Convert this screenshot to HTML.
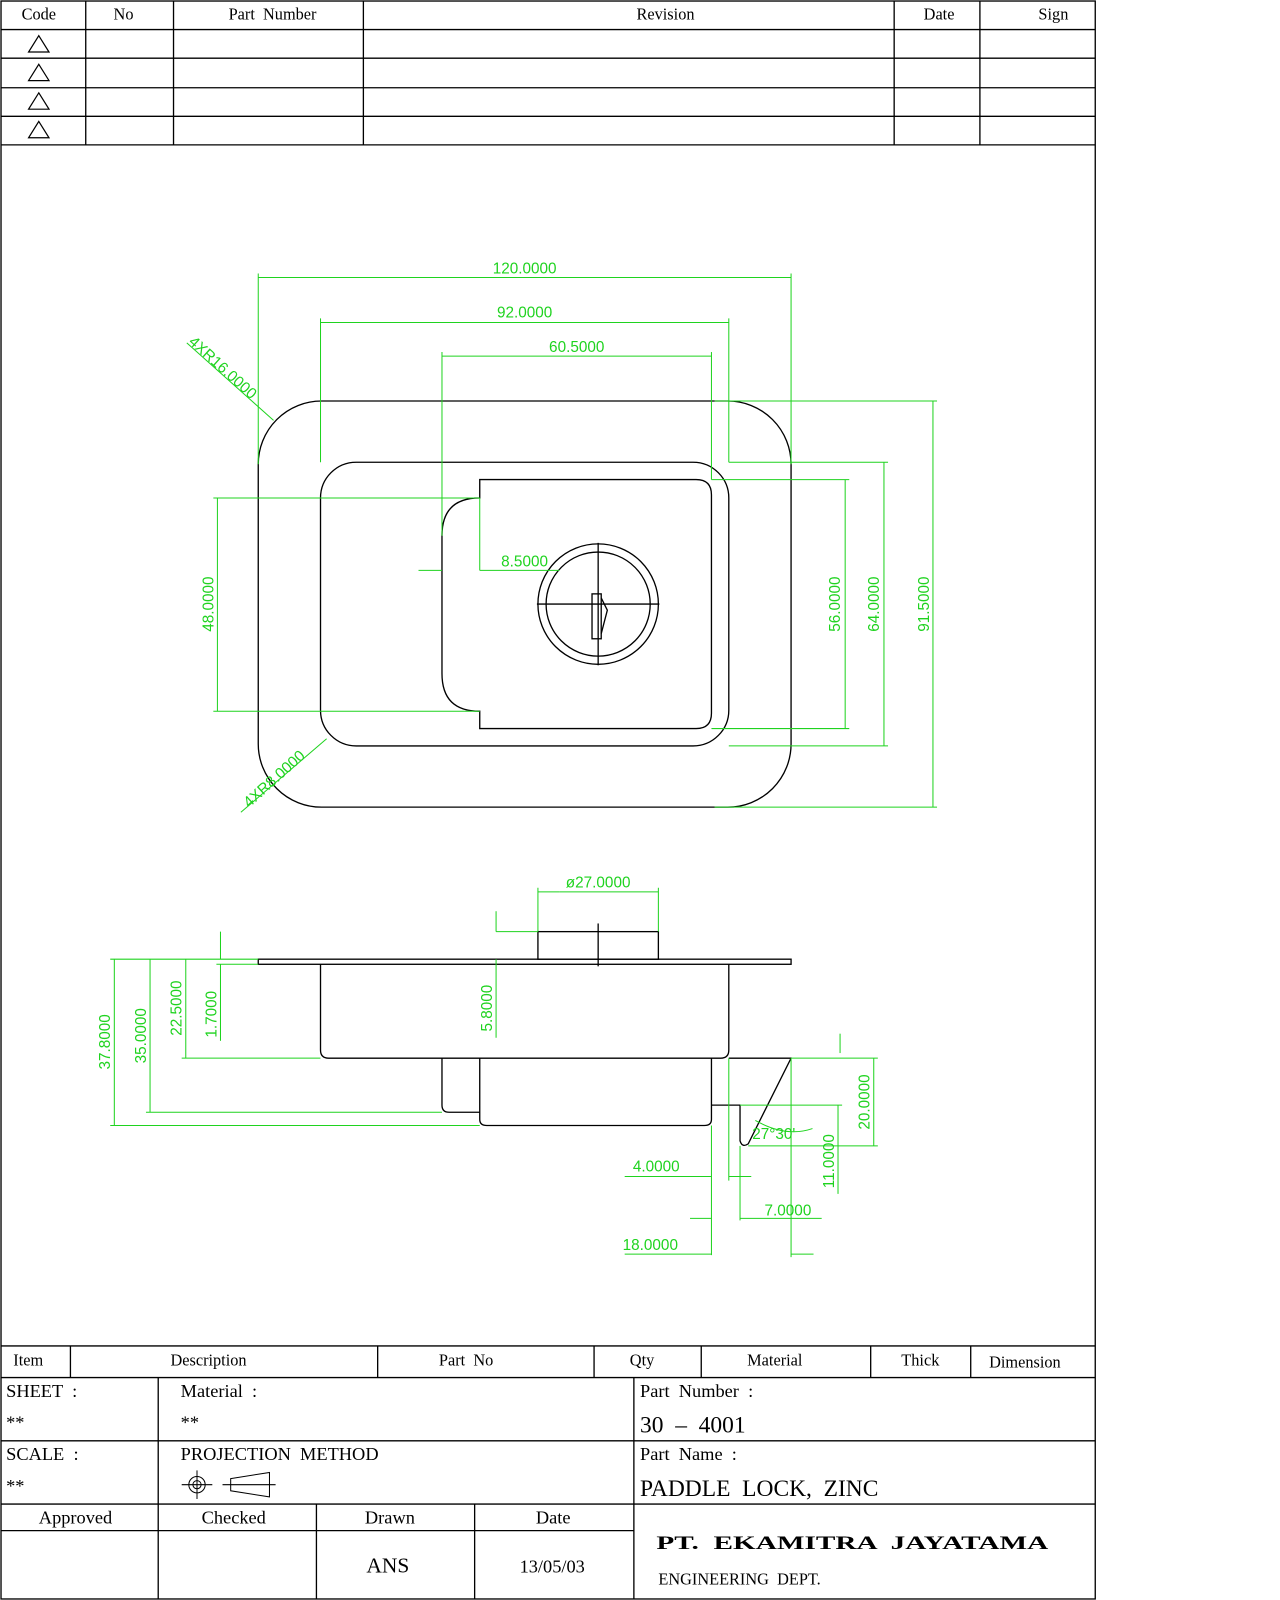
<!DOCTYPE html>
<html><head><meta charset="utf-8"><style>
html,body{margin:0;padding:0;background:#fff}
svg{display:block}
text{white-space:pre}
.k{stroke:#000;stroke-width:1.3;fill:none}
.g{stroke:#1fd31f;stroke-width:1;fill:none}
.gt{fill:#1fd31f;font-family:"Liberation Sans",sans-serif;font-size:15px}
.t{font-family:"Liberation Serif",serif;font-size:16px;fill:#000}
.tb{font-family:"Liberation Serif",serif;font-size:20px;fill:#000}
</style></head><body>
<svg width="1280" height="1600" viewBox="0 0 1254 1568" preserveAspectRatio="none" xmlns="http://www.w3.org/2000/svg" xml:space="preserve">
<rect x="1" y="1" width="1072" height="1566" class="k"/>
<g class="k">
<line x1="1" y1="29" x2="1073" y2="29"/><line x1="1" y1="57" x2="1073" y2="57"/>
<line x1="1" y1="86" x2="1073" y2="86"/><line x1="1" y1="114" x2="1073" y2="114"/>
<line x1="1" y1="142" x2="1073" y2="142"/>
<line x1="84" y1="1" x2="84" y2="142"/><line x1="170" y1="1" x2="170" y2="142"/>
<line x1="356" y1="1" x2="356" y2="142"/><line x1="876" y1="1" x2="876" y2="142"/>
<line x1="960" y1="1" x2="960" y2="142"/>
<path d="M38 35 L48 51 L28 51 Z M38 63 L48 79 L28 79 Z M38 91 L48 107 L28 107 Z M38 119 L48 135 L28 135 Z" stroke-width="1.2"/>
</g>
<g class="t" text-anchor="middle">
<text x="38" y="19">Code</text><text x="121" y="19">No</text><text x="267" y="19">Part  Number</text>
<text x="652" y="19">Revision</text><text x="920" y="19">Date</text><text x="1032" y="19">Sign</text>
</g>
<g class="k">
<rect x="253" y="393" width="522" height="398" rx="62"/>
<rect x="314" y="453" width="400" height="278" rx="35"/>
<path d="M470 470 L682 470 Q697 470 697 485 L697 699 Q697 714 682 714 L470 714 L470 697 Q433 697 433 660 L433 525 Q433 488 470 488 Z"/>
<circle cx="586" cy="592" r="59"/><circle cx="586" cy="592" r="51"/>
<line x1="526" y1="592" x2="646" y2="592"/><line x1="586" y1="532" x2="586" y2="652"/>
<rect x="580" y="582" width="9" height="44"/><path d="M589 586 L595 598 L589 621"/>
</g>
<g class="g">
<line x1="253" y1="272" x2="775" y2="272"/><line x1="253" y1="268" x2="253" y2="455"/><line x1="775" y1="268" x2="775" y2="455"/>
<line x1="314" y1="316" x2="714" y2="316"/><line x1="314" y1="312" x2="314" y2="453"/><line x1="714" y1="312" x2="714" y2="453"/>
<line x1="433" y1="349" x2="697" y2="349"/><line x1="433" y1="345" x2="433" y2="525"/><line x1="697" y1="345" x2="697" y2="470"/>
<line x1="183" y1="336" x2="268" y2="412"/>
<line x1="236" y1="796" x2="320" y2="724"/>
<line x1="213" y1="488" x2="213" y2="697"/><line x1="209" y1="488" x2="470" y2="488"/><line x1="209" y1="697" x2="470" y2="697"/>
<line x1="410" y1="559" x2="433" y2="559"/><line x1="470" y1="559" x2="548" y2="559"/><line x1="470" y1="488" x2="470" y2="559"/>
<line x1="828" y1="470" x2="828" y2="714"/><line x1="697" y1="470" x2="832" y2="470"/><line x1="697" y1="714" x2="832" y2="714"/>
<line x1="866" y1="453" x2="866" y2="731"/><line x1="714" y1="453" x2="870" y2="453"/><line x1="714" y1="731" x2="870" y2="731"/>
<line x1="914" y1="393" x2="914" y2="791"/><line x1="700" y1="393" x2="918" y2="393"/><line x1="700" y1="791" x2="918" y2="791"/>
</g>
<g class="gt">
<text x="514" y="268" text-anchor="middle">120.0000</text>
<text x="514" y="311" text-anchor="middle">92.0000</text>
<text x="565" y="345" text-anchor="middle">60.5000</text>
<text x="491" y="555">8.5000</text>
<text transform="translate(184,336) rotate(42)">4XR16.0000</text>
<text transform="translate(244,792) rotate(-42)">4XR8.0000</text>
<text transform="translate(209,592) rotate(-90)" text-anchor="middle">48.0000</text>
<text transform="translate(823,592) rotate(-90)" text-anchor="middle">56.0000</text>
<text transform="translate(861,592) rotate(-90)" text-anchor="middle">64.0000</text>
<text transform="translate(910,592) rotate(-90)" text-anchor="middle">91.5000</text>
</g>
<g class="k">
<rect x="253" y="940" width="522" height="5"/>
<path d="M314 945 L314 1029 Q314 1037 322 1037 L706 1037 Q714 1037 714 1029 L714 945"/>
<rect x="527" y="913" width="118" height="27"/>
<line x1="586" y1="905" x2="586" y2="947"/>
<path d="M433 1037 L433 1083 Q433 1090 440 1090 L470 1090 M470 1037 L470 1097 Q470 1103 477 1103 L690 1103 Q697 1103 697 1097 L697 1037"/>
<path d="M697 1083 L725 1083 L725 1118 Q727 1125 733 1121 L775 1037 L714 1037"/>
</g>
<g class="g">
<line x1="548" y1="874" x2="645" y2="874"/><line x1="527" y1="870" x2="527" y2="913"/><line x1="645" y1="870" x2="645" y2="913"/><line x1="527" y1="874" x2="548" y2="874"/>
<line x1="486" y1="913" x2="527" y2="913"/><line x1="486" y1="893" x2="486" y2="913"/><line x1="486" y1="940" x2="486" y2="1017"/>
<line x1="112" y1="940" x2="112" y2="1103"/><line x1="108" y1="940" x2="253" y2="940"/><line x1="108" y1="1103" x2="470" y2="1103"/>
<line x1="147" y1="940" x2="147" y2="1090"/><line x1="143" y1="1090" x2="433" y2="1090"/>
<line x1="182" y1="940" x2="182" y2="1037"/><line x1="178" y1="1037" x2="314" y2="1037"/>
<line x1="216" y1="913" x2="216" y2="940"/><line x1="216" y1="945" x2="216" y2="1020"/><line x1="212" y1="945" x2="253" y2="945"/>
<line x1="823" y1="1013" x2="823" y2="1032"/><line x1="775" y1="1037" x2="860" y2="1037"/><line x1="856" y1="1037" x2="856" y2="1123"/><line x1="733" y1="1123" x2="860" y2="1123"/>
<line x1="821" y1="1083" x2="821" y2="1170"/><line x1="725" y1="1083" x2="825" y2="1083"/>
<line x1="612" y1="1153" x2="697" y2="1153"/><line x1="714" y1="1153" x2="736" y2="1153"/><line x1="697" y1="1103" x2="697" y2="1230"/><line x1="714" y1="1037" x2="714" y2="1157"/>
<line x1="725" y1="1123" x2="725" y2="1196"/><line x1="725" y1="1194" x2="805" y2="1194"/><line x1="775" y1="1037" x2="775" y2="1232"/>
<line x1="612" y1="1229" x2="697" y2="1229"/><line x1="775" y1="1229" x2="797" y2="1229"/><line x1="676" y1="1194" x2="697" y2="1194"/>
<path d="M740 1098 Q770 1115 796 1106"/>
</g>
<g class="gt">
<text x="586" y="870" text-anchor="middle">ø27.0000</text>
<text x="737" y="1116">27°30'</text>
<text x="620" y="1148">4.0000</text>
<text x="749" y="1191">7.0000</text>
<text x="610" y="1225">18.0000</text>
<text transform="translate(108,1021) rotate(-90)" text-anchor="middle">37.8000</text>
<text transform="translate(143,1015) rotate(-90)" text-anchor="middle">35.0000</text>
<text transform="translate(178,988) rotate(-90)" text-anchor="middle">22.5000</text>
<text transform="translate(212,994) rotate(-90)" text-anchor="middle">1.7000</text>
<text transform="translate(482,988) rotate(-90)" text-anchor="middle">5.8000</text>
<text transform="translate(852,1080) rotate(-90)" text-anchor="middle">20.0000</text>
<text transform="translate(817,1138) rotate(-90)" text-anchor="middle">11.0000</text>
</g>
<g class="k">
<line x1="1" y1="1319" x2="1073" y2="1319"/><line x1="1" y1="1350" x2="1073" y2="1350"/>
<line x1="69" y1="1319" x2="69" y2="1350"/><line x1="370" y1="1319" x2="370" y2="1350"/><line x1="582" y1="1319" x2="582" y2="1350"/>
<line x1="687" y1="1319" x2="687" y2="1350"/><line x1="853" y1="1319" x2="853" y2="1350"/><line x1="951" y1="1319" x2="951" y2="1350"/>
<line x1="1" y1="1412" x2="1073" y2="1412"/><line x1="1" y1="1474" x2="1073" y2="1474"/>
<line x1="155" y1="1350" x2="155" y2="1567"/><line x1="621" y1="1350" x2="621" y2="1567"/>
<line x1="1" y1="1500" x2="621" y2="1500"/><line x1="310" y1="1474" x2="310" y2="1567"/><line x1="465" y1="1474" x2="465" y2="1567"/>
<circle cx="193" cy="1455" r="8" stroke-width="1"/><circle cx="193" cy="1455" r="4" stroke-width="1"/>
<line x1="178" y1="1455" x2="208" y2="1455" stroke-width="1"/><line x1="193" y1="1441" x2="193" y2="1469" stroke-width="1"/>
<path d="M226 1449 L264 1443 L264 1467 L226 1461 Z M218 1455 L270 1455" stroke-width="1"/>
</g>
<g class="t">
<text x="13" y="1338">Item</text><text x="167" y="1338">Description</text><text x="430" y="1338">Part  No</text>
<text x="617" y="1338">Qty</text><text x="732" y="1338">Material</text><text x="883" y="1338">Thick</text><text x="969" y="1340">Dimension</text>
</g>
<g class="t" style="font-size:18px">
<text x="6" y="1369">SHEET  :</text><text x="6" y="1400">**</text>
<text x="177" y="1369">Material  :</text><text x="177" y="1400">**</text>
<text x="627" y="1369">Part  Number  :</text>
<text x="6" y="1431">SCALE  :</text><text x="6" y="1462">**</text>
<text x="177" y="1431">PROJECTION  METHOD</text>
<text x="627" y="1431">Part  Name  :</text>
<text x="74" y="1493" text-anchor="middle">Approved</text><text x="229" y="1493" text-anchor="middle">Checked</text>
<text x="382" y="1493" text-anchor="middle">Drawn</text><text x="542" y="1493" text-anchor="middle">Date</text>
<text x="541" y="1541" text-anchor="middle">13/05/03</text>
<text x="645" y="1553" style="font-size:16px">ENGINEERING  DEPT.</text>
</g>
<g class="tb">
<text x="627" y="1404" style="font-size:23px">30  –  4001</text>
<text x="627" y="1466" style="font-size:23px">PADDLE  LOCK,  ZINC</text>
<text x="380" y="1541" text-anchor="middle" style="font-size:21px">ANS</text>
<text x="643" y="1518" textLength="384" lengthAdjust="spacingAndGlyphs" style="font-size:19px;font-weight:bold">PT.  EKAMITRA  JAYATAMA</text>
</g>
</svg>
</body></html>
